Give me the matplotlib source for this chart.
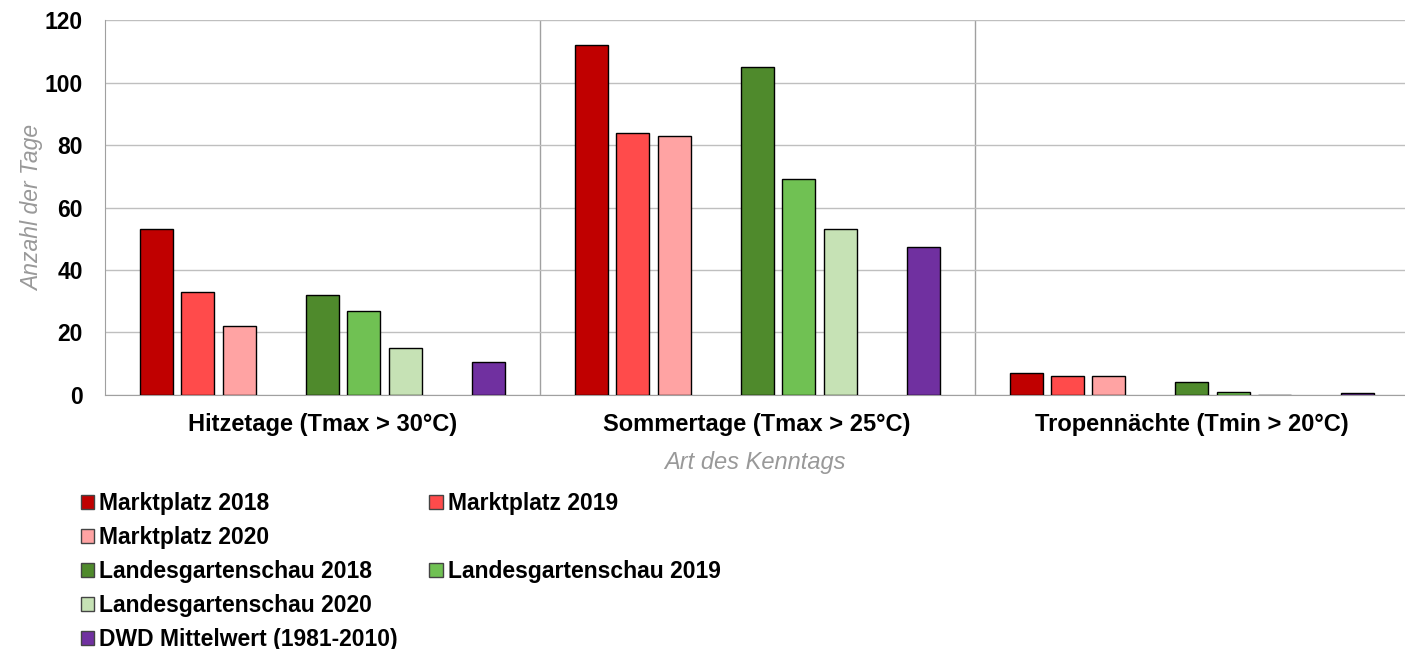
import numpy as np
import matplotlib.pyplot as plt
from matplotlib.patches import Patch

plt.rcParams['font.family'] = ['Liberation Sans', 'DejaVu Sans']

categories = ["Hitzetage (Tmax > 30°C)", "Sommertage (Tmax > 25°C)", "Tropennächte (Tmin > 20°C)"]
series_names = ["Marktplatz 2018", "Marktplatz 2019", "Marktplatz 2020",
                "Landesgartenschau 2018", "Landesgartenschau 2019", "Landesgartenschau 2020",
                "DWD Mittelwert (1981-2010)"]
marktplatz_2018 = [53, 112, 7]
marktplatz_2019 = [33, 84, 6]
marktplatz_2020 = [22, 83, 6]
lgs_2018 = [32, 105, 4]
lgs_2019 = [27, 69, 1]
lgs_2020 = [15, 53, 0]
dwd_mittel = [10.5, 47.5, 0.5]

colors = ["#C00000", "#FF4B4B", "#FFA3A3", "#4F8A2C", "#70C153", "#C6E2B5", "#7030A0"]
values = [marktplatz_2018, marktplatz_2019, marktplatz_2020,
          lgs_2018, lgs_2019, lgs_2020, dwd_mittel]
# slot positions within a category (slot 3 and 7 are empty spacers)
slots = [0, 1, 2, 4, 5, 6, 8]

fig = plt.figure(figsize=(14.05, 6.49), dpi=100)
ax = fig.add_axes([0.0747, 0.3914, 0.9253, 0.5777])

x = np.arange(len(categories))
step = 0.0954
width = 0.0759
handles = []
for vals, slot, col, name in zip(values, slots, colors, series_names):
    pos = x + (slot - 4) * step
    ax.bar(pos, vals, width=width, color=col, edgecolor="black", linewidth=1.0, zorder=3)
    handles.append(Patch(facecolor=col, edgecolor="#444444", label=name))

ax.set_ylim(0, 120)
ax.set_xlim(-0.5, 2.49)
ax.set_yticks(np.arange(0, 121, 20))
ax.yaxis.grid(True, color="#BFBFBF", linewidth=1.0, zorder=0)
for b in [0.5, 1.5]:
    ax.axvline(b, color="#A0A0A0", linewidth=1.0, zorder=1)
for s in ["top", "right"]:
    ax.spines[s].set_visible(False)
ax.spines["left"].set_color("#A0A0A0")
ax.spines["bottom"].set_color("#A0A0A0")
ax.tick_params(axis="both", length=0, labelsize=16.5)
ax.tick_params(axis="y", pad=16)
ax.tick_params(axis="x", pad=13, labelsize=17)
ax.set_xticks(x)
ax.set_xticklabels(categories, fontweight="bold")
for lab in ax.get_yticklabels():
    lab.set_fontweight("bold")
ax.set_ylabel("Anzahl der Tage", fontsize=16.5, style="italic", color="#999999", labelpad=0.5)
ax.set_xlabel("Art des Kenntags", fontsize=17, style="italic", color="#999999", labelpad=11)

blank = Patch(visible=False, label="")
leg_handles = [handles[0], handles[2], handles[3], handles[5], handles[6],
               handles[1], blank, handles[4], blank, blank]
leg_labels = [h.get_label() for h in leg_handles]
leg = fig.legend(leg_handles, leg_labels, ncol=2, loc="upper left",
                 bbox_to_anchor=(0.046, 0.266), frameon=False,
                 prop={"weight": "bold", "size": 16.5},
                 handlelength=0.57, handleheight=0.57, handletextpad=0.22,
                 columnspacing=1.4, labelspacing=0.48, borderpad=0.2)

fig.savefig("out.png", dpi=100)
